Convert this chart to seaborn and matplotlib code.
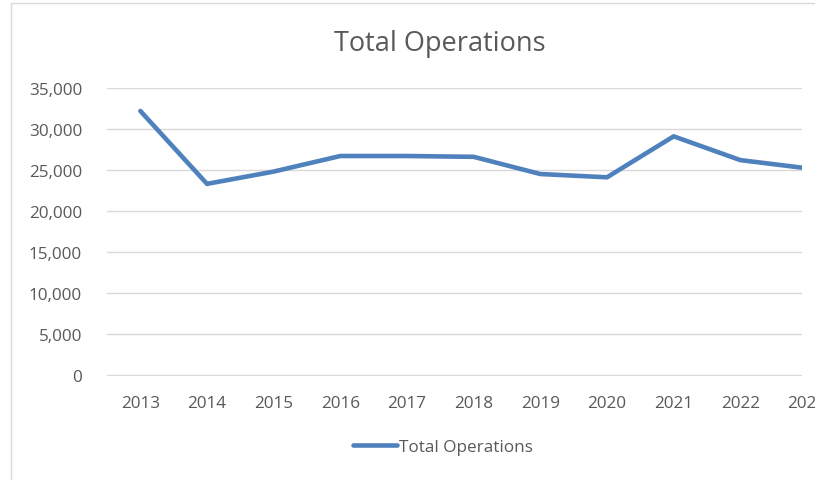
import pandas as pd
import matplotlib.pyplot as plt
import seaborn as sns
from matplotlib.patches import Rectangle
from matplotlib.ticker import FuncFormatter

sns.set_style('white')
plt.rcParams['font.family'] = ['Open Sans', 'DejaVu Sans']

# data
years = ['2013', '2014', '2015', '2016', '2017', '2018', '2019', '2020', '2021', '2022', '2023']
total_ops = [32200, 23300, 24800, 26700, 26700, 26600, 24500, 24100, 29100, 26200, 25200]

df = pd.DataFrame({'year': years, 'ops': total_ops})

grey = '#595959'
blue = '#4F81BD'
fs = 12.3

fig = plt.figure(figsize=(8.15, 4.81), dpi=100)
# chart frame (cropped on the right, like the source)
fig.patches.append(Rectangle((11 / 815, -0.1), 1.2, 1.1 - 4 / 481, transform=fig.transFigure,
                             fill=False, edgecolor='#D9D9D9', linewidth=1))
ax = fig.add_axes([107 / 815, 1 - 377 / 481, (802 - 107) / 815, (377 - 89) / 481])

sns.lineplot(data=df, x='year', y='ops', ax=ax, color=blue, linewidth=3.3,
             sort=False, label='Total Operations')
ax.lines[0].set_solid_capstyle('round')
ax.lines[0].set_solid_joinstyle('round')

ax.set_xlim(-0.5, 9.925)
ax.set_ylim(-150, 35000)
ax.set_yticks(range(0, 35001, 5000))
ax.yaxis.set_major_formatter(FuncFormatter(lambda v, p: f'{int(v):,}'))
ax.grid(axis='y', color='#D9D9D9', linewidth=1)
ax.grid(axis='x', visible=False)
for s in ax.spines.values():
    s.set_visible(False)
ax.tick_params(axis='both', length=0, labelsize=fs, labelcolor=grey)
ax.tick_params(axis='y', pad=18)
ax.tick_params(axis='x', pad=14)
ax.set_xlabel('')
ax.set_ylabel('')

# last category label falls past the crop
ax.text(10, -0.067, '2023', transform=ax.get_xaxis_transform(), ha='center', va='top',
        fontsize=fs, color=grey, clip_on=False)

fig.text(440 / 815, 1 - 44 / 481, 'Total Operations', ha='center', va='center',
         fontsize=19.5, color=grey)

ax.legend(loc='center', bbox_to_anchor=(443 / 815, 1 - 448 / 481), bbox_transform=fig.transFigure,
          frameon=False, fontsize=fs, labelcolor=grey, handlelength=2.6, handletextpad=0.1)

plt.savefig('out.png', dpi=100)
